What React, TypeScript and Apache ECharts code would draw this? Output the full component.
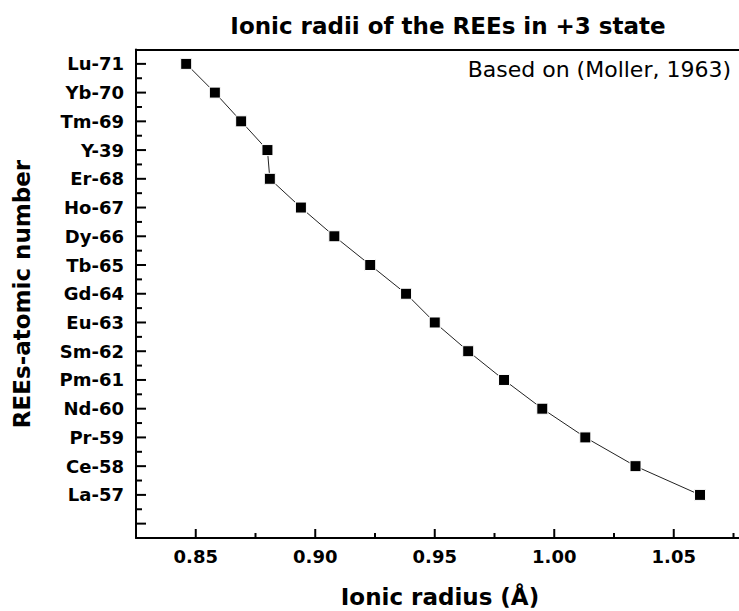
import React, { useEffect, useRef } from "react";
import * as echarts from "echarts";

// Rare-earth elements (plus Y) in plotting order, bottom to top
const elements = [
  "La-57", "Ce-58", "Pr-59", "Nd-60", "Pm-61", "Sm-62", "Eu-63", "Gd-64",
  "Tb-65", "Dy-66", "Ho-67", "Er-68", "Y-39", "Tm-69", "Yb-70", "Lu-71",
];

// Ionic radius of the +3 ion, in Å
const ionicRadius = [
  1.061, 1.034, 1.013, 0.995, 0.979, 0.964, 0.95, 0.938,
  0.923, 0.908, 0.894, 0.881, 0.88, 0.869, 0.858, 0.846,
];

// Tick positions
const xMajorTicks = [0.85, 0.9, 0.95, 1.0, 1.05];
const xMinorTicks = [0.875, 0.925, 0.975, 1.025, 1.075];
const yMajorTicks = [-1, 0, 1, 2, 3, 4, 5, 6, 7, 8, 9, 10, 11, 12, 13, 14, 15];
const yMinorTicks = [-0.5, 0.5, 1.5, 2.5, 3.5, 4.5, 5.5, 6.5, 7.5, 8.5, 9.5, 10.5, 11.5, 12.5, 13.5, 14.5];
const yLabelValues = elements.map((_, i) => i);

const FONT = "DejaVu Sans";

// The canvas is wider than the window so the frame runs off the right edge.
const CHART_W = 870;
const CHART_H = 611;

const X_MIN = 0.825;
const X_MAX = 1.125;
const Y_MIN = -1.5;
const Y_MAX = 15.5;

// tick kinds: 0 x-major, 1 x-minor, 2 y-major, 3 y-minor
const tickData = [
  ...xMajorTicks.map((v) => [v, Y_MIN, 0]),
  ...xMinorTicks.map((v) => [v, Y_MIN, 1]),
  ...yMajorTicks.map((v) => [X_MIN, v, 2]),
  ...yMinorTicks.map((v) => [X_MIN, v, 3]),
];

export default function App() {
  const ref = useRef<HTMLDivElement>(null);

  useEffect(() => {
    if (!ref.current) return;
    const chart = echarts.init(ref.current, null, { renderer: "svg" });

    const axisFont = { fontFamily: FONT, fontSize: 18, fontWeight: "bold" as const, color: "#000" };
    const frameLine = { show: true, onZero: false, lineStyle: { color: "#000", width: 2 } };

    chart.setOption({
      animation: false,
      backgroundColor: "#ffffff",
      title: {
        text: "Ionic radii of the REEs in +3 state",
        left: 443,
        top: 9,
        textAlign: "center",
        textStyle: { fontFamily: FONT, fontSize: 23, fontWeight: "bold", color: "#000" },
      },
      grid: { left: 136, right: 17, top: 49.5, bottom: 73 },
      xAxis: [
        {
          type: "value",
          min: X_MIN,
          max: X_MAX,
          splitLine: { show: false },
          axisLine: frameLine,
          axisTick: { show: false },
          axisLabel: {
            show: true,
            customValues: xMajorTicks,
            margin: 9,
            formatter: (v: number) => v.toFixed(2),
            ...axisFont,
          },
        },
        {
          type: "value",
          position: "top",
          min: X_MIN,
          max: X_MAX,
          splitLine: { show: false },
          axisLine: frameLine,
          axisTick: { show: false },
          axisLabel: { show: false },
        },
      ],
      yAxis: {
        type: "value",
        min: Y_MIN,
        max: Y_MAX,
        splitLine: { show: false },
        axisLine: frameLine,
        axisTick: { show: false },
        axisLabel: {
          show: true,
          customValues: yLabelValues,
          margin: 12,
          formatter: (v: number) => elements[Math.round(v)] ?? "",
          ...axisFont,
        },
      },
      graphic: [
        {
          type: "text",
          x: 22,
          y: 294,
          rotation: Math.PI / 2,
          style: {
            text: "REEs-atomic number",
            fontFamily: FONT,
            fontSize: 23,
            fontWeight: "bold",
            fill: "#000",
            align: "center",
            verticalAlign: "middle",
          },
        },
        {
          type: "text",
          x: 440,
          y: 597,
          style: {
            text: "Ionic radius (Å)",
            fontFamily: FONT,
            fontSize: 23,
            fontWeight: "bold",
            fill: "#000",
            align: "center",
            verticalAlign: "middle",
          },
        },
        {
          type: "text",
          x: 731,
          y: 69,
          style: {
            text: "Based on (Moller, 1963)",
            fontFamily: FONT,
            fontSize: 22,
            fill: "#000",
            align: "right",
            verticalAlign: "middle",
          },
        },
      ],
      series: [
        {
          // inward tick marks on the left and bottom frame
          type: "custom",
          xAxisIndex: 0,
          yAxisIndex: 0,
          clip: false,
          silent: true,
          encode: { x: 0, y: 1 },
          data: tickData,
          renderItem: (_params: any, api: any) => {
            const kind = api.value(2);
            const p = api.coord([api.value(0), api.value(1)]);
            const style = { stroke: "#000", lineWidth: 2 };
            if (kind === 0 || kind === 1) {
              const len = kind === 0 ? 9 : 5;
              return { type: "line", shape: { x1: p[0], y1: p[1], x2: p[0], y2: p[1] - len }, style };
            }
            const len = kind === 2 ? 10 : 6;
            return { type: "line", shape: { x1: p[0], y1: p[1], x2: p[0] + len, y2: p[1] }, style };
          },
          z: 4,
        },
        {
          type: "line",
          xAxisIndex: 0,
          yAxisIndex: 0,
          data: ionicRadius.map((r, i) => [r, i]),
          symbol: "rect",
          symbolSize: 11,
          showSymbol: true,
          lineStyle: { color: "#222", width: 1 },
          itemStyle: { color: "#000", borderColor: "#fff", borderWidth: 1 },
          emphasis: { disabled: true },
          z: 3,
        },
      ],
    });

    return () => chart.dispose();
  }, []);

  return (
    <div
      ref={ref}
      style={{ position: "fixed", left: 0, top: 0, width: CHART_W, height: CHART_H, background: "#fff" }}
    />
  );
}
